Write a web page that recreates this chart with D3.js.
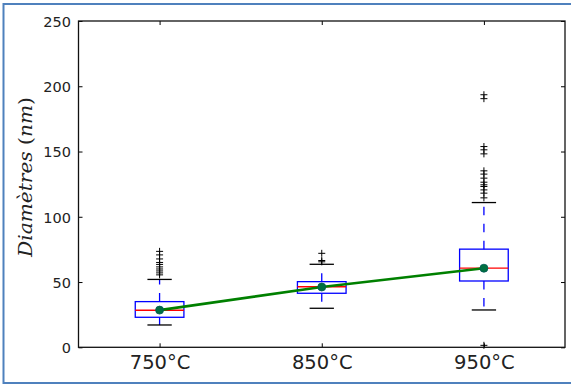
<!DOCTYPE html>
<html><head><meta charset="utf-8">
<script src="https://cdn.jsdelivr.net/npm/d3@7"></script>
<style>body{margin:0;background:#fff}svg{display:block}</style>
</head><body>
<svg id="c" width="571" height="385"></svg>
<script>
// ---- data ----
const categories = ["750°C", "850°C", "950°C"];
const q1 = [23, 41.4, 50.8];
const medians = [28.4, 46.4, 60.6];
const q3 = [35, 50.3, 75.2];
const whiskerLow = [17.1, 29.9, 28.6];
const whiskerHigh = [52, 63.6, 110.9];
const means = [28.5, 46.2, 60.6];
const fliers750 = [73.5, 70.8, 67.7, 65, 63.5, 61.6, 60, 58.5, 57, 55.5];
const fliers850 = [72, 66.5, 65.5];
const fliers950 = [1.5, 193.5, 190.5, 153.8, 151.3, 148.2, 135.2, 132.7, 129.6, 126.5, 124.5, 123.2, 120.6, 118.1, 114.5];
const fliers = [fliers750, fliers850, fliers950];
const yTicks = [0, 50, 100, 150, 200, 250];
const yLabel = "Diamètres";
const yUnit = "(nm)";

// ---- layout ----
const svg = d3.select("#c");
const L = 78.5, R = 565, T = 21, B = 347.3;
const x = d3.scalePoint().domain(categories).range([L, R]).padding(0.5);
const y = d3.scaleLinear().domain([0, 250]).range([B, T]);
const step = x.step();
const boxW = step * 0.3, capW = step * 0.15;

// outer border
svg.append("path").attr("d", `M573,4H3.5V383H573`).attr("fill", "none")
  .attr("stroke", "#4f81bd").attr("stroke-width", 2);

// axes
const font = "'DejaVu Sans', sans-serif";
const gl = svg.append("g").attr("transform", `translate(${L},0)`)
  .call(d3.axisLeft(y).tickValues(yTicks).tickSize(-4).tickPadding(7.5));
const gr = svg.append("g").attr("transform", `translate(${R},0)`)
  .call(d3.axisRight(y).tickValues(yTicks).tickSize(-4).tickFormat(""));
const gb = svg.append("g").attr("transform", `translate(0,${B})`)
  .call(d3.axisBottom(x).tickSize(-4).tickPadding(8));
const gt = svg.append("g").attr("transform", `translate(0,${T})`)
  .call(d3.axisTop(x).tickSize(-4).tickFormat(""));
[gl, gr, gb, gt].forEach(g => {
  g.select(".domain").remove();
  g.selectAll(".tick line").attr("stroke", "#000").attr("stroke-width", 1);
});
gl.selectAll("text").attr("font-family", font).attr("font-size", 14.5).attr("fill", "#222").attr("dy", "0.36em");
gb.selectAll("text").attr("font-family", font).attr("font-size", 19.5).attr("fill", "#222")
  .attr("y", 22).attr("dy", 0);

// y label
const yl = svg.append("text").attr("transform", `translate(32,177) rotate(-90)`)
  .attr("text-anchor", "middle").attr("font-family", "'DejaVu Serif', serif").attr("font-size", 19).attr("fill", "#222");
yl.append("tspan").attr("font-style", "italic").text(yLabel + " ");
yl.append("tspan").text("(");
yl.append("tspan").attr("font-style", "italic").text("nm");
yl.append("tspan").text(")");
const w = yl.node().getComputedTextLength();
if (w > 0) yl.attr("transform", `translate(32,177) rotate(-90) scale(${160 / w},1)`);

// boxes
const g = svg.append("g");
categories.forEach((c, i) => {
  const cx = x(c);
  // whiskers (dashed from box edge outward)
  g.append("line").attr("x1", cx).attr("x2", cx).attr("y1", y(q3[i])).attr("y2", y(whiskerHigh[i]))
    .attr("stroke", "#0000ff").attr("stroke-width", 1.3).attr("stroke-dasharray", "8.5,8.5");
  g.append("line").attr("x1", cx).attr("x2", cx).attr("y1", y(q1[i])).attr("y2", y(whiskerLow[i]))
    .attr("stroke", "#0000ff").attr("stroke-width", 1.3).attr("stroke-dasharray", "8.5,8.5");
  // caps
  [whiskerHigh[i], whiskerLow[i]].forEach(v => {
    g.append("line").attr("x1", cx - capW / 2).attr("x2", cx + capW / 2).attr("y1", y(v)).attr("y2", y(v))
      .attr("stroke", "#000").attr("stroke-width", 1.3);
  });
  // box
  g.append("rect").attr("x", cx - boxW / 2).attr("width", boxW).attr("y", y(q3[i]))
    .attr("height", y(q1[i]) - y(q3[i])).attr("fill", "none").attr("stroke", "#0000ff").attr("stroke-width", 1.3);
  // median
  g.append("line").attr("x1", cx - boxW / 2).attr("x2", cx + boxW / 2).attr("y1", y(medians[i])).attr("y2", y(medians[i]))
    .attr("stroke", "#ff0000").attr("stroke-width", 1.3);
  // fliers
  fliers[i].forEach(v => {
    g.append("path").attr("d", `M${cx - 3.5},${y(v)}h7M${cx},${y(v) - 3.5}v7`)
      .attr("stroke", "#000").attr("stroke-width", 1).attr("fill", "none");
  });
});

// mean line
const line = d3.line().x((d, i) => x(categories[i])).y(d => y(d));
svg.append("path").attr("d", line(means)).attr("fill", "none").attr("stroke", "#008000").attr("stroke-width", 2.6);
svg.selectAll(".mean").data(means).join("circle").attr("class", "mean")
  .attr("cx", (d, i) => x(categories[i])).attr("cy", d => y(d)).attr("r", 4)
  .attr("fill", "#007040").attr("stroke", "#005a55").attr("stroke-width", 0.8);

// frame
svg.append("rect").attr("x", L).attr("y", T).attr("width", R - L).attr("height", B - T)
  .attr("fill", "none").attr("stroke", "#111").attr("stroke-width", 1.3);
</script>
</body></html>
